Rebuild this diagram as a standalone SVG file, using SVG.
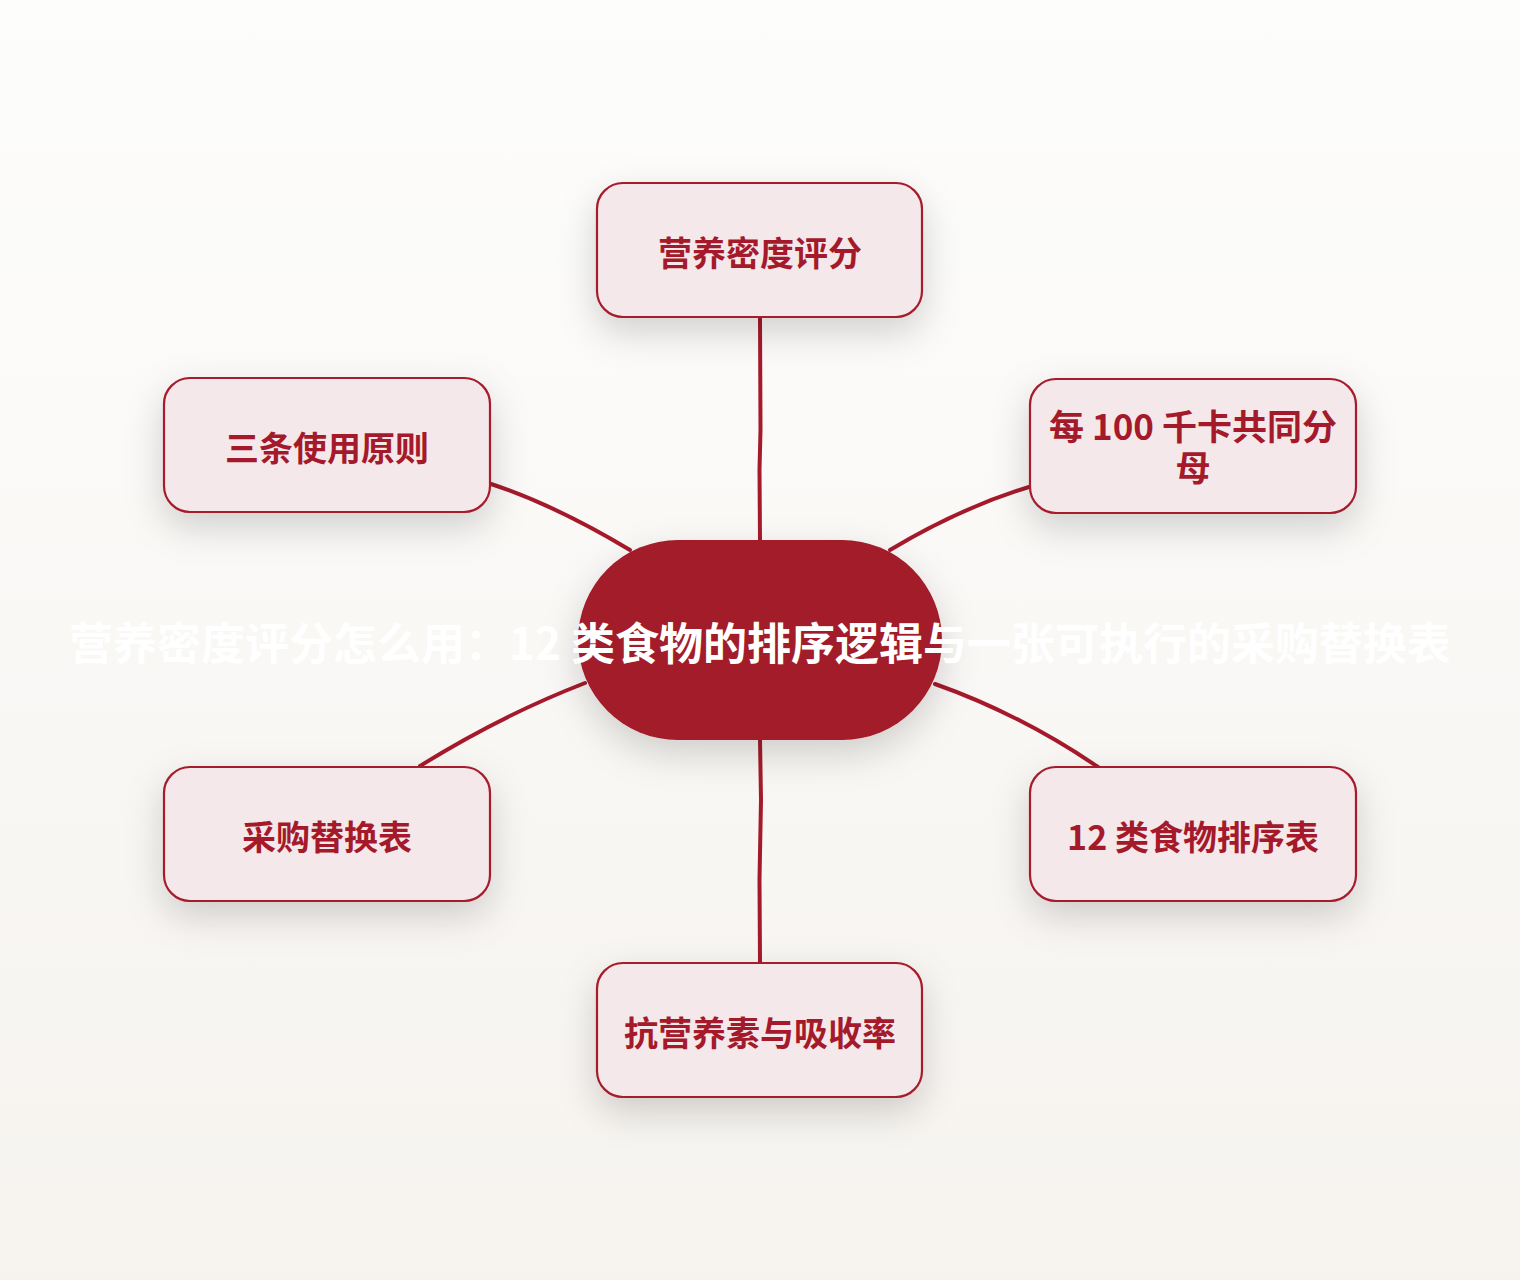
<svg xmlns="http://www.w3.org/2000/svg" width="1520" height="1280" viewBox="0 0 1520 1280">
  <defs>
    <linearGradient id="bg" x1="0" y1="0" x2="0" y2="1">
      <stop offset="0" stop-color="#fdfdfc"/>
      <stop offset="1" stop-color="#f6f3ef"/>
    </linearGradient>
    <filter id="shadow" x="-40%" y="-40%" width="180%" height="200%">
      <feDropShadow dx="0" dy="14" stdDeviation="18" flood-color="#000" flood-opacity="0.17"/>
    </filter>
    <style>
      .node rect.box { fill: #f4e8ea; stroke: #a51a2b; stroke-width: 2.2; }
      .node text { font-family: "Noto Sans CJK SC", "Noto Sans", sans-serif; font-weight: 700; font-size: 34px; fill: #a51a2b; text-anchor: middle; }
      .conn path { fill: none; stroke: #a51a2b; stroke-width: 4; stroke-linecap: round; }
      .center text { font-family: "Noto Sans CJK SC", "Noto Sans", sans-serif; font-weight: 700; font-size: 44px; fill: #ffffff; text-anchor: middle; }
    </style>
  </defs>
  <rect x="0" y="0" width="1520" height="1280" fill="url(#bg)"/>

  <g id="connectors" class="conn">
    <path d="M760 318 L760.5 430 L759.5 470 L760 541"/>
    <path d="M760 739 L761 800 L759.5 880 L760 962"/>
    <path d="M491 484 Q555 505 630 550"/>
    <path d="M1029 487 Q960 508 890 550"/>
    <path d="M585 683 Q500 716 420 766"/>
    <path d="M935 684 Q1020 714 1098 767"/>
  </g>

  <g id="node-center" class="center">
    <rect x="578" y="540" width="364" height="200" rx="100" ry="100" fill="#a31a2a" filter="url(#shadow)"/>
    <text x="760" y="660">营养密度评分怎么用：12 类食物的排序逻辑与一张可执行的采购替换表</text>
  </g>

  <g id="node-top" class="node">
    <rect class="box" x="597" y="183" width="325" height="134" rx="26" filter="url(#shadow)"/>
    <text x="760" y="266">营养密度评分</text>
  </g>

  <g id="node-upper-right" class="node">
    <rect class="box" x="1030" y="379" width="326" height="134" rx="26" filter="url(#shadow)"/>
    <text x="1193" y="440" style="font-size:35px"><tspan x="1193" y="440">每 100 千卡共同分</tspan><tspan x="1193" y="481">母</tspan></text>
  </g>

  <g id="node-upper-left" class="node">
    <rect class="box" x="164" y="378" width="326" height="134" rx="26" filter="url(#shadow)"/>
    <text x="327" y="461">三条使用原则</text>
  </g>

  <g id="node-lower-left" class="node">
    <rect class="box" x="164" y="767" width="326" height="134" rx="26" filter="url(#shadow)"/>
    <text x="327" y="850">采购替换表</text>
  </g>

  <g id="node-lower-right" class="node">
    <rect class="box" x="1030" y="767" width="326" height="134" rx="26" filter="url(#shadow)"/>
    <text x="1193" y="850">12 类食物排序表</text>
  </g>

  <g id="node-bottom" class="node">
    <rect class="box" x="597" y="963" width="325" height="134" rx="26" filter="url(#shadow)"/>
    <text x="760" y="1046">抗营养素与吸收率</text>
  </g>
</svg>
